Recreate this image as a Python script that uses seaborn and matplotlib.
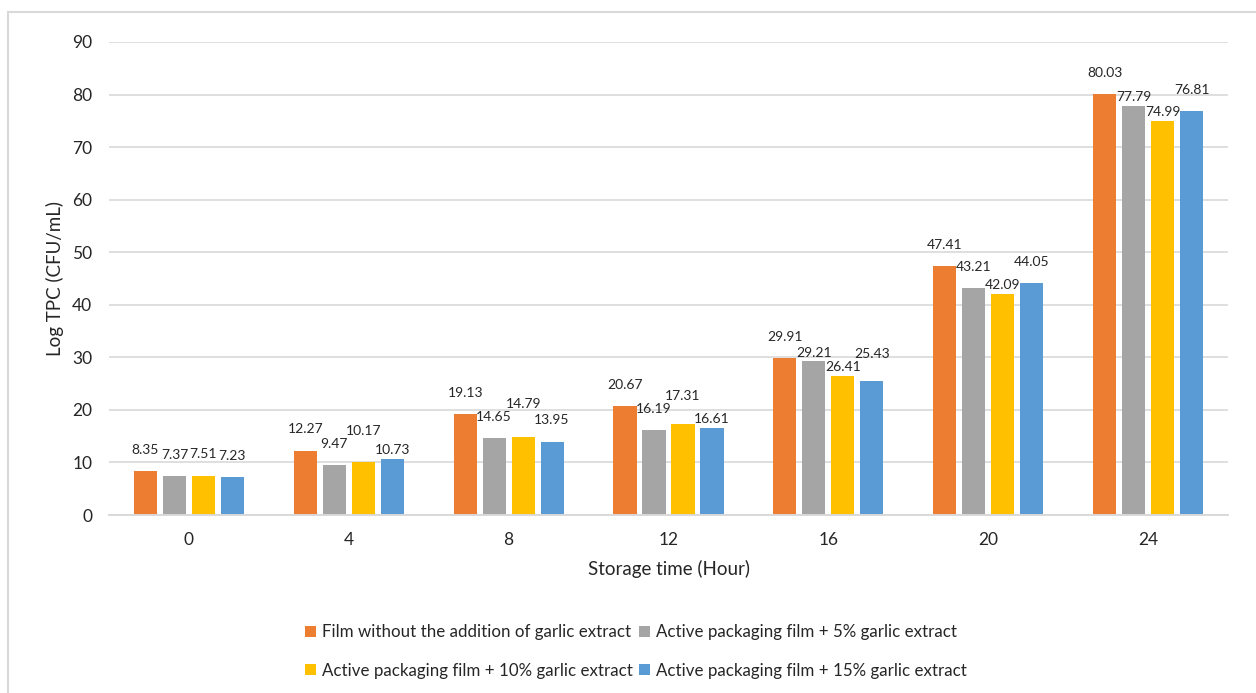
import matplotlib
matplotlib.use("Agg")
import matplotlib.pyplot as plt
from matplotlib.patches import Rectangle, Patch
import pandas as pd
import seaborn as sns

# Storage time groups and the four film treatments
storage_hours = ["0", "4", "8", "12", "16", "20", "24"]
treatments = [
    "Film without the addition of garlic extract",
    "Active packaging film + 5% garlic extract",
    "Active packaging film + 10% garlic extract",
    "Active packaging film + 15% garlic extract",
]
no_extract = [8.35, 12.27, 19.13, 20.67, 29.91, 47.41, 80.03]
extract_5 = [7.37, 9.47, 14.65, 16.19, 29.21, 43.21, 77.79]
extract_10 = [7.51, 10.17, 14.79, 17.31, 26.41, 42.09, 74.99]
extract_15 = [7.23, 10.73, 13.95, 16.61, 25.43, 44.05, 76.81]
yticks = [0, 10, 20, 30, 40, 50, 60, 70, 80, 90]

colors = ["#ED7D31", "#A5A5A5", "#FFC000", "#5B9BD5"]
text_color = "#262626"

rows = []
for name, vals in zip(treatments, [no_extract, extract_5, extract_10, extract_15]):
    for h, v in zip(storage_hours, vals):
        rows.append({"Storage time (Hour)": h, "Log TPC": v, "Treatment": name})
df = pd.DataFrame(rows)

sns.set_theme(style="white")
plt.rcParams["font.family"] = ["Lato", "DejaVu Sans"]

fig = plt.figure(figsize=(12.56, 6.93), dpi=100)
ax = fig.add_axes([109 / 1256, 1 - 515 / 693, (1228 - 109) / 1256, (515 - 42) / 693])

sns.barplot(
    data=df, x="Storage time (Hour)", y="Log TPC", hue="Treatment",
    order=storage_hours, hue_order=treatments, palette=colors,
    width=0.725, gap=0.2, errorbar=None, saturation=1, ax=ax, legend=False,
    edgecolor="none",
)

ax.set_ylim(0, 90)
ax.set_xlim(-0.5, len(storage_hours) - 0.5)
ax.set_yticks(yticks)
ax.yaxis.grid(True, color="#D9D9D9", linewidth=1.2)
ax.set_axisbelow(True)
for side in ["top", "right", "left"]:
    ax.spines[side].set_visible(False)
ax.spines["bottom"].set_color("#D9D9D9")
ax.spines["bottom"].set_linewidth(1.4)
ax.tick_params(axis="both", length=0, labelsize=12.5, colors=text_color)
ax.tick_params(axis="y", pad=12)
ax.tick_params(axis="x", pad=12)
ax.set_xlabel("Storage time (Hour)", fontsize=13.5, color=text_color, labelpad=9)
ax.set_ylabel("Log TPC (CFU/mL)", fontsize=13.5, color=text_color, labelpad=6)

# Value labels above each bar; a label that collides with its left
# neighbour is first tucked down close to its bar, otherwise lifted above.
label_sets = [ax.bar_label(cont, fmt="%.2f", fontsize=10, color=text_color,
                           padding=11) for cont in ax.containers]
renderer = fig.canvas.get_renderer()
for g in range(len(storage_hours)):
    prev = None
    for labels in label_sets:
        ann = labels[g]
        if prev is not None:
            pb = prev.get_window_extent(renderer)
            if ann.get_window_extent(renderer).overlaps(pb):
                ann.xyann = (0, 2)
                if ann.get_window_extent(renderer).overlaps(pb):
                    bb = ann.get_window_extent(renderer)
                    lift = (pb.y1 - bb.y0 + 1) * 72 / fig.dpi
                    ann.xyann = (0, 2 + lift)
        prev = ann

handles = [Patch(facecolor=c, edgecolor="none") for c in colors]
order = [0, 2, 1, 3]
fig.legend(
    [handles[i] for i in order], [treatments[i] for i in order],
    loc="center", bbox_to_anchor=(636 / 1256, 1 - 651.5 / 693),
    ncol=2, frameon=False, fontsize=12.2, handlelength=0.65, handleheight=0.65,
    handletextpad=0.35, columnspacing=0.35, labelspacing=1.3,
    labelcolor=text_color,
)

# Chart frame
fig.patches.append(Rectangle((8 / 1256, -0.1), 1.2, 1 - 12 / 693 + 0.1,
                             transform=fig.transFigure, fill=False,
                             edgecolor="#D9D9D9", linewidth=1.5, zorder=0))

fig.savefig("out.png", dpi=100, facecolor="white")
